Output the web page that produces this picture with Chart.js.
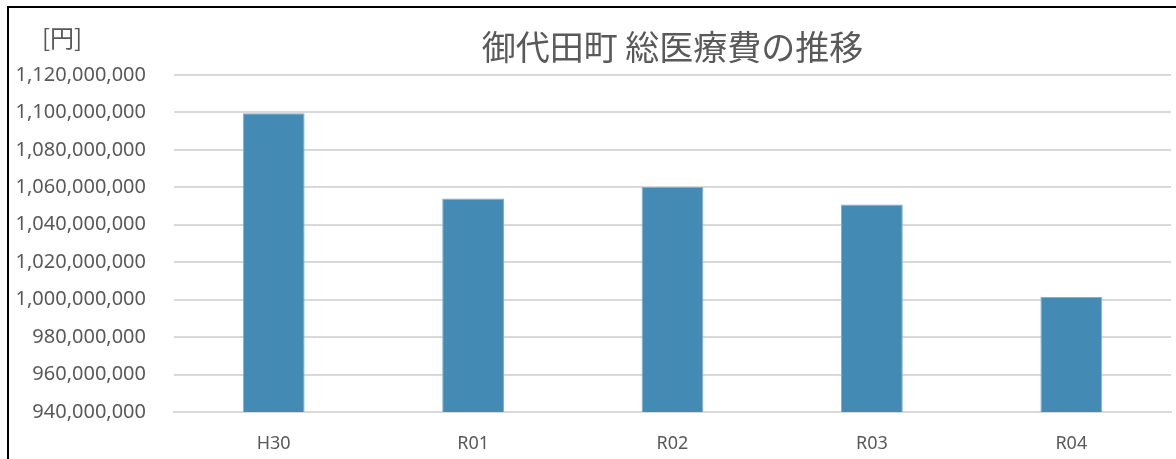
<!DOCTYPE html>
<html>
<head>
<meta charset="utf-8">
<script src="https://cdn.jsdelivr.net/npm/chart.js@4/dist/chart.umd.min.js"></script>
<style>
  html, body { margin: 0; padding: 0; background: #fff; }
  #wrap { width: 1176px; height: 459px; position: relative; }
</style>
</head>
<body>
<div id="wrap"><canvas id="iryohi"></canvas></div>
<script>
// 年度
const nendo = ["H30", "R01", "R02", "R03", "R04"];
// 総医療費 [円]
const soIryohi = [1099600000, 1054100000, 1060200000, 1050800000, 1001400000];
const yMin = 940000000;
const yMax = 1120000000;
const yStep = 20000000;
const titulo = "御代田町 総医療費の推移";
const unidad = "[円]";

// 枠線・タイトル・単位
const extras = {
  id: "extras",
  afterDraw: function(chart){
    const c = chart.ctx;
    const a = chart.chartArea;
    c.save();
    c.strokeStyle = "#000";
    c.lineWidth = 2;
    c.strokeRect(8, 7, 1200, 480);
    c.fillStyle = "#595959";
    c.textBaseline = "middle";
    c.font = "34px 'Noto Sans CJK JP'";
    c.textAlign = "center";
    c.fillText(titulo, (a.left + a.right) / 2, 47);
    c.font = "24px 'Noto Sans CJK JP'";
    c.textAlign = "left";
    c.fillText(unidad, 42, 38);
    c.restore();
  }
};

const conf = {
  type: "bar",
  data: {
    labels: nendo,
    datasets: [{
      label: "総医療費",
      data: soIryohi,
      backgroundColor: "#438AB5",
      borderColor: "#7FB0D2",
      borderWidth: 1,
      categoryPercentage: 1.0,
      barPercentage: 0.31
    }]
  },
  options: {
    responsive: true,
    maintainAspectRatio: false,
    animation: false,
    layout: { padding: { left: 0, right: 5, top: 75, bottom: 0 } },
    plugins: {
      legend: { display: false },
      tooltip: { enabled: false },
      title: { display: false }
    },
    scales: {
      x: {
        grid: { display: false },
        border: { display: true, color: "#d9d9d9", width: 2 },
        ticks: {
          color: "#595959",
          padding: 13,
          font: { family: "'Noto Sans'", size: 18 }
        },
        afterFit: function(s){ s.height = 47; }
      },
      y: {
        min: yMin,
        max: yMax,
        grid: { color: "#d9d9d9", lineWidth: 2, drawTicks: false },
        border: { display: false },
        ticks: {
          stepSize: yStep,
          color: "#595959",
          padding: 28,
          font: { family: "'Noto Sans'", size: 20 },
          callback: function(v){ return v.toLocaleString("en-US"); }
        },
        afterFit: function(s){ s.width = 174; }
      }
    }
  },
  plugins: [extras]
};

const grafico = new Chart(document.getElementById("iryohi"), conf);
</script>
</body>
</html>
